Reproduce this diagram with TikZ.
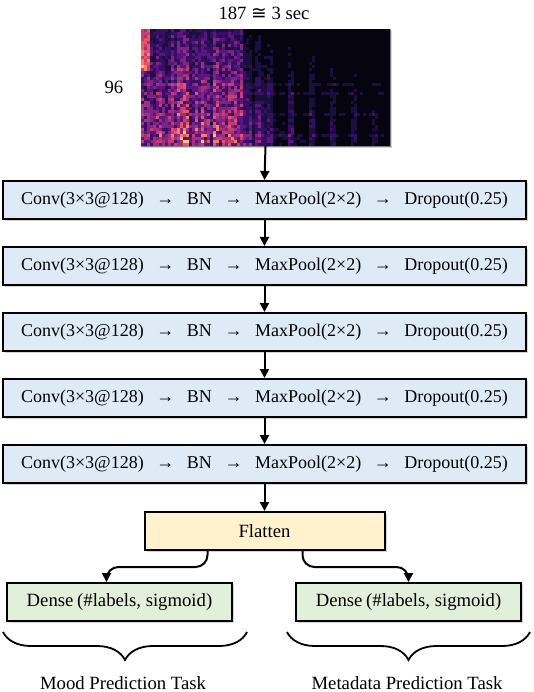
\documentclass[tikz,border=0pt]{standalone}
\usepackage{fontspec}
\setmainfont{Liberation Serif}
\newfontfamily\symfont{DejaVu Sans}
\usetikzlibrary{positioning,arrows.meta,shadows,decorations.pathreplacing}

\definecolor{convblue}{HTML}{DEEBF7}
\definecolor{flatyellow}{HTML}{FFF2CC}
\definecolor{densegreen}{HTML}{E2EFDA}
% magma colour steps for the spectrogram
\definecolor{mag0}{HTML}{06040F}
\definecolor{mag1}{HTML}{1A1040}
\definecolor{mag2}{HTML}{360F65}
\definecolor{mag3}{HTML}{5A167E}
\definecolor{mag4}{HTML}{7E2482}
\definecolor{mag5}{HTML}{A3307E}
\definecolor{mag6}{HTML}{C83E73}
\definecolor{mag7}{HTML}{E95462}
\definecolor{mag8}{HTML}{FA7F5E}
\definecolor{mag9}{HTML}{FEC287}

\newcommand\thento{\hspace{0.7em}→\hspace{0.7em}}
\newcommand\convtext{Conv(3×3@128)\thento BN\thento MaxPool(2×2)\thento Dropout(0.25)}

\begin{document}
\begin{tikzpicture}[x=1pt, y=-1pt,
	layer/.style={rectangle, draw, line width=2pt, fill=convblue,
		minimum width=523pt, minimum height=38pt, inner sep=0pt,
		font=\fontsize{18}{21}\selectfont,
		drop shadow={shadow xshift=2pt, shadow yshift=-2pt, opacity=0.35}},
	flatbox/.style={layer, fill=flatyellow, minimum width=240pt,
		font=\fontsize{18.7}{22}\selectfont},
	densebox/.style={layer, fill=densegreen, minimum width=225pt,
		font=\fontsize{18.7}{22}\selectfont},
	specbox/.style={rectangle, draw=gray, fill=mag0, minimum width=249pt,
		minimum height=117pt, inner sep=0pt,
		drop shadow={shadow xshift=2pt, shadow yshift=-2pt, opacity=0.35}},
	link/.style={line width=2pt, -{Triangle[width=9pt,length=9pt]}},
	task/.style={decorate, decoration={brace, mirror, amplitude=28pt}, line width=1.8pt},
	lbl/.style={font=\fontsize{18.7}{22}\selectfont}
]
	\useasboundingbox (0,0) rectangle (534,692);

	% Input spectrogram
	\node[specbox] (spec) at (265.5,87.5) {};
	\pgfmathsetseed{11}
	\foreach \i in {0,...,82}{
		\pgfmathsetmacro\u{\i/83}
		\pgfmathsetmacro\ecol{\u<0.4 ? 0.55+0.5*rnd : (\u<0.5 ? 0.3+0.3*rnd : (mod(\i,7)<2 ? 0.6 : 0.2)*(1.25-\u))}
		\pgfmathsetmacro\rowlo{\u<0.4 ? 0.45 : 0.15}
		\foreach \j in {0,...,38}{
			\pgfmathsetmacro\lvl{\ecol*(\rowlo+(1-\rowlo)*\j/39)*(0.35+0.65*rnd)
				+ ((\j==18 || \j==21 || \j==28 || \j==35) && \u<0.97 ? 0.1*rnd : 0)
				+ (\i<3 && \j<14 ? 0.45 : 0)}
			\pgfmathtruncatemacro\idx{min(9,\lvl*10)}
			\fill[mag\idx] ({141+\i*3},{29+\j*3}) rectangle ++(3.05,3.05);
		}
	}
	\node[lbl] (dur) at (264,13) {187 {\symfont ≅} 3 sec};
	\node[lbl, left=14pt of spec] (bins) {96};

	% Convolution blocks
	\node[layer] (conv1) at (264.5,200) {\convtext};
	\node[layer, below=26pt of conv1] (conv2) {\convtext};
	\node[layer, below=26pt of conv2] (conv3) {\convtext};
	\node[layer, below=26pt of conv3] (conv4) {\convtext};
	\node[layer, below=26pt of conv4] (conv5) {\convtext};
	\node[flatbox, below=27pt of conv5] (flatten) {Flatten};

	% Output heads
	\node[densebox] (mood) at (119.5,602) {Dense\hspace{0.2em}(\#labels, sigmoid)};
	\node[densebox] (meta) at (408.5,602) {Dense\hspace{0.2em}(\#labels, sigmoid)};

	% Connections
	\draw[link] (spec.south) -- (conv1.north);
	\foreach \a/\b in {conv1/conv2, conv2/conv3, conv3/conv4, conv4/conv5, conv5/flatten}
		\draw[link] (\a.south) -- (\b.north);
	\draw[link, rounded corners=12pt] ([xshift=-57pt]flatten.south) -- ++(0,16) -| ([xshift=-13pt]mood.north);
	\draw[link, rounded corners=12pt] ([xshift=38pt]flatten.south) -- ++(0,16) -| (meta.north);

	% Task braces
	\draw[task] (3,632) -- (247,632);
	\draw[task] (287,632) -- (530,632);
	\node[lbl] (moodtask) at (123,683) {Mood Prediction Task};
	\node[lbl] (metatask) at (407,683) {Metadata Prediction Task};
\end{tikzpicture}
\end{document}
